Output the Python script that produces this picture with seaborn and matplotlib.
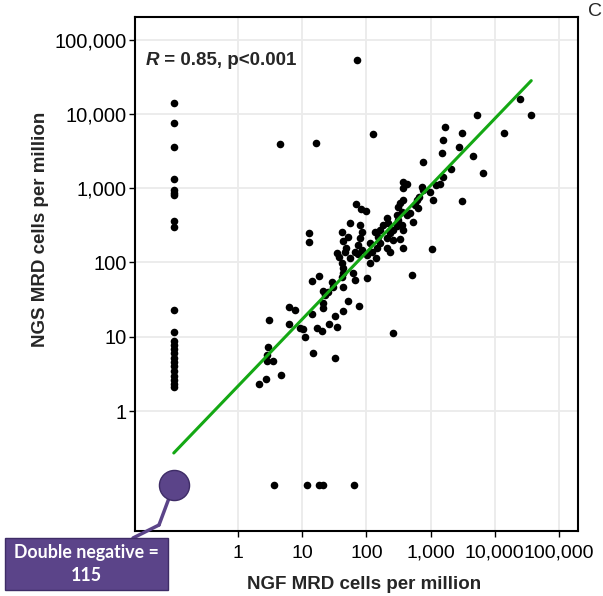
import numpy as np
import pandas as pd
import matplotlib
matplotlib.use("Agg")
import matplotlib.pyplot as plt
import seaborn as sns
from matplotlib.ticker import FixedLocator, FixedFormatter, NullLocator
from matplotlib.patches import Rectangle
from matplotlib.lines import Line2D

# MRD cells per million, samples positive by both methods
ngf_pos = [2.1, 2.7, 2.9, 2.8, 2.8, 3.5, 4.6, 3.0, 6.3, 7.7, 6.2, 9.2, 10.4, 11, 14, 15,
           32, 17, 20, 26, 35, 33, 43, 52, 77, 21, 23, 21, 14, 18.5, 29, 30, 44, 13, 13,
           69, 82, 98, 56, 81, 41, 52, 44, 81, 87, 49, 47, 35, 38, 66, 75, 85, 56, 41,
           44, 43, 41, 62, 66, 103, 114, 141, 101, 121, 145, 114, 136, 75, 153,
           367, 425, 376, 726, 769, 979, 1100, 667, 607, 571, 376, 334, 314, 355, 643,
           425, 478, 297, 314, 207, 219, 183, 163, 538, 355, 376, 262, 233, 207, 262,
           376, 207, 233, 163, 334, 297,
           5220, 24700, 37000, 13900, 1690, 3080, 1540, 2800, 1510, 4530, 769, 6550,
           2060, 1580, 1400, 1210, 3050, 1040, 508, 257, 4.5, 16.4, 125, 71, 21, 25]
ngs_pos = [2.3, 2.7, 7.3, 5.7, 4.7, 4.7, 3.1, 17, 25, 23, 15, 13, 12.6, 10, 20, 6.1,
           5.1, 13, 12, 15, 13.4, 19, 22, 30, 26, 41, 36, 28, 56, 66, 55, 46, 46, 250, 186,
           610, 520, 490, 336, 318, 254, 222, 196, 211, 259, 155, 139, 133, 119, 139, 130,
           147, 113, 97, 83, 71, 63, 71, 58, 61, 99, 114, 126, 139, 155, 181, 259, 171, 222,
           1220, 1135, 993, 1045, 943, 895, 692, 766, 692, 593, 692, 624, 562, 481, 535,
           435, 458, 435, 372, 393, 336, 318, 273, 353, 318, 273, 273, 247, 211, 200,
           155, 155, 139, 181, 205, 309,
           9550, 15700, 9730, 5570, 6640, 5470, 4440, 3610, 2990, 2730, 2240, 1600,
           1790, 1420, 1125, 1100, 677, 152, 68, 11.1, 3960, 4000, 5300, 53000, 24, 40]

# NGF negative, NGS positive
ngs_only = [13900, 7440, 3540, 1340, 940, 870, 810, 362, 296, 22.9, 11.7,
            8.8, 7.8, 6.8, 6.0, 5.2, 4.6, 4.0, 3.5, 3.0, 2.6, 2.3, 2.1]
# NGS negative, NGF positive
ngf_only = [3.6, 12, 18.3, 21, 64]

double_negative = 115
zero_pos = 0.1  # zeros are drawn here on the log axes

tick_values = [1, 10, 100, 1000, 10000, 100000]
tick_labels = ["1", "10", "100", "1,000", "10,000", "100,000"]

# regression line in log10 space
fit_slope = 0.90
fit_intercept = 0.335
r_value = 0.85

df = pd.DataFrame({
    "NGF": ngf_pos + [0] * len(ngs_only) + ngf_only,
    "NGS": ngs_pos + ngs_only + [0] * len(ngf_only),
})
df["NGF_plot"] = df["NGF"].where(df["NGF"] > 0, zero_pos)
df["NGS_plot"] = df["NGS"].where(df["NGS"] > 0, zero_pos)

sns.set_style("white")
plt.rcParams["font.family"] = ["Liberation Sans", "DejaVu Sans"]

fig = plt.figure(figsize=(6.03, 5.96), dpi=100)
ax = fig.add_axes([0.2239, 0.1091, 0.7346, 0.8624])

ax.set_xscale("log")
ax.set_yscale("log")

sns.scatterplot(data=df, x="NGF_plot", y="NGS_plot", color="black", s=30,
                linewidth=0, ax=ax, zorder=3)

# fitted line across the data range
fit_x = pd.Series([df["NGF_plot"].min(), df["NGF_plot"].max()])
fit_df = pd.DataFrame({"x": fit_x, "y": 10 ** (fit_intercept + fit_slope * np.log10(fit_x))})
sns.lineplot(data=fit_df, x="x", y="y", color="#14A814", linewidth=2.2, ax=ax, zorder=4)

# double negative marker
ax.scatter([zero_pos], [zero_pos], s=470, color="#5B4489", edgecolor="#3E2C66",
           linewidth=1, zorder=5, clip_on=False)

ax.set_xlim(0.0249, 197700)
ax.set_ylim(0.0243, 201000)

for axis in (ax.xaxis, ax.yaxis):
    axis.set_major_locator(FixedLocator(tick_values))
    axis.set_major_formatter(FixedFormatter(tick_labels))
    axis.set_minor_locator(NullLocator())

ax.grid(True, which="major", color="#EBEBEB", linewidth=1.3)
ax.set_axisbelow(True)
for sp in ax.spines.values():
    sp.set_color("black")
    sp.set_linewidth(1.5)
ax.tick_params(axis="both", which="major", labelsize=14, length=4, width=1,
               color="black", labelcolor="black", left=True, bottom=True)
ax.tick_params(axis="x", pad=6)
ax.tick_params(axis="y", labelsize=14.5, pad=2)

ax.set_xlabel("NGF MRD cells per million", fontsize=13.5, fontweight="bold")
ax.set_ylabel("NGS MRD cells per million", fontsize=13.5, fontweight="bold")
ax.xaxis.set_label_coords(0.517, -0.088)
ax.yaxis.set_label_coords(-0.195, 0.586)

# correlation label
t = ax.text(0.023, 0.898, "R", transform=ax.transAxes, fontsize=13.5,
            fontweight="bold", style="italic", va="bottom", ha="left")
ax.annotate(f" = {r_value:.2f}, p<0.001", xy=(1, 0), xycoords=t, fontsize=13.5,
            fontweight="bold", va="bottom", ha="left")

# callout box
fig.patches.append(Rectangle((5 / 603, 1 - 590 / 596), 163 / 603, 52 / 596,
                             transform=fig.transFigure, facecolor="#5B4489",
                             edgecolor="#3E2C66", linewidth=1, zorder=6))
fig.text(86 / 603, 1 - 564 / 596, f"Double negative =\n{double_negative}",
         ha="center", va="center", color="white", fontsize=12.8, fontweight="bold",
         family=["Lato", "DejaVu Sans"], linespacing=1.4, zorder=7)
fig.add_artist(Line2D([133 / 603, 159 / 603], [1 - 538 / 596, 1 - 525 / 596],
                      color="#5B4489", linewidth=2.5, transform=fig.transFigure,
                      solid_capstyle="round"))
ax.annotate("", xy=(zero_pos, zero_pos), xycoords="data",
            xytext=(159 / 603, 1 - 525 / 596), textcoords="figure fraction",
            arrowprops=dict(arrowstyle="-", color="#5B4489", linewidth=2.5,
                            shrinkA=0, shrinkB=10), annotation_clip=False)

# panel letter, at the edge as in the original
fig.text(602 / 603, 1 - 12 / 596, "C", fontsize=14, ha="right", va="center")

fig.savefig("out.png", dpi=100)
